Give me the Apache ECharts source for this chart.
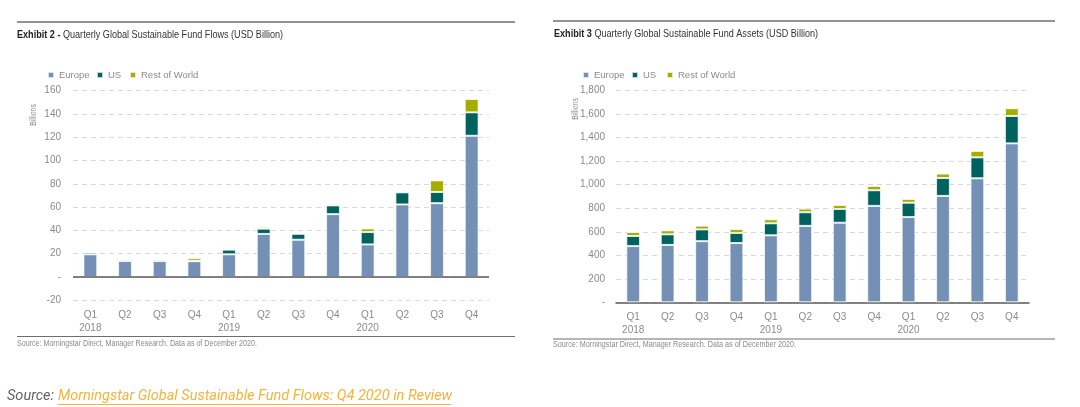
<!DOCTYPE html>
<html>
<head>
<meta charset="utf-8">
<script src="https://cdn.jsdelivr.net/npm/echarts@6/dist/echarts.min.js"></script>
<style>
html,body{margin:0;padding:0;background:#fff;}
#c{width:1080px;height:407px;}
</style>
</head>
<body>
<div id="c"></div>
<script>
// ---- data ----
var quarters = ['Q1\n2018','Q2','Q3','Q4','Q1\n2019','Q2','Q3','Q4','Q1\n2020','Q2','Q3','Q4'];
var seriesNames = ['Europe','US','Rest of World'];

// Exhibit 2: flows (USD billion)
var flowEurope = [19.5, 13.7, 13.7, 13.6, 19.5, 37.0, 32.0, 54.0, 28.0, 62.3, 63.4, 121.3];
var flowUS     = [1.6, 1.2, 1.2, 0.4, 4.0, 4.5, 5.1, 7.5, 10.6, 10.4, 9.6, 20.1];
var flowRoW    = [0.3, 0.7, 0.5, 2.3, 1.1, 1.4, 0.4, 1.2, 3.1, -1.0, 10.0, 11.5];
var flowTicks  = {min: -20, max: 160, interval: 20};

// Exhibit 3: assets (USD billion)
var assetEurope = [478, 488, 520, 504, 570, 650, 677, 820, 725, 905, 1055, 1352];
var assetUS     = [86, 90, 100, 86, 102, 116, 117, 133, 122, 152, 178, 233];
var assetRoW    = [34, 34, 32, 33, 34, 31, 34, 37, 32, 38, 55, 66];
var assetTicks  = {min: 0, max: 1800, interval: 200};

// ---- style ----
var colors = {'Europe':'#7491b5','US':'#00625f','Rest of World':'#a4ad00'};
var narrow = "'Liberation Sans',Arial,sans-serif";
var grey = '#8a8a8a';

function fmtComma(v){ if(v===0) return '-'; return String(v).replace(/\B(?=(\d{3})+(?!\d))/g, ','); }
function fmtPlain(v){ return v===0 ? '-' : String(v); }

function mkX(gi, margin){
  return {
    type:'category', gridIndex: gi, data: quarters,
    axisTick:{show:false},
    axisLine:{show: gi===1, onZero:true, lineStyle:{color:'#5a5a5a', width:1.5}},
    axisLabel:{color:grey, fontFamily:narrow, fontSize:10, lineHeight:13, margin: margin, interval:0}
  };
}
function mkY(gi, t, fmt, margin){
  return {
    type:'value', gridIndex: gi, min:t.min, max:t.max, interval:t.interval,
    axisLine:{show:false}, axisTick:{show:false},
    splitLine:{show:true, lineStyle:{color:'#d9d9d9', type:[5,4], width:1}},
    axisLabel:{color:grey, fontFamily:narrow, fontSize:10, margin: margin, formatter: fmt}
  };
}
function mkSeries(name, data, gi, stack, withZero){
  var s = {
    name: name, type:'bar', stack: stack, xAxisIndex: gi, yAxisIndex: gi,
    data: data, barWidth:'40%',
    itemStyle:{color: colors[name], borderColor:'rgba(255,255,255,0.75)', borderWidth:1},
    emphasis:{disabled:true}, animation:false
  };
  if (withZero) {
    s.markLine = {silent:true, symbol:'none', label:{show:false}, animation:false,
      lineStyle:{color:'#5a5a5a', type:'solid', width:1.5},
      data:[{yAxis:0}]};
  }
  return s;
}
function mkLegend(name, left){
  return {data:[name], left:left, top:70, padding:0, icon:'rect', itemWidth:6, itemHeight:6, itemGap:0,
    textStyle:{color:grey, fontFamily:narrow, fontSize:9.5}, selectedMode:false};
}
function narrowText(x, y, text, size, fill, sx){
  return {type:'text', x:x, y:y, scaleX:sx, scaleY:1, originX:0, originY:0, silent:true,
    style:{text:text, fontFamily:narrow, fontSize:size, fill:fill, align:'left', verticalAlign:'middle'}};
}

var option = {
  animation:false,
  color:[colors['Europe'], colors['US'], colors['Rest of World']],
  grid:[
    {left:73, right:1080-489, top:90.7, bottom:407-300.3, containLabel:false},
    {left:616, right:1080-1029, top:90.7, bottom:407-302.3, containLabel:false}
  ],
  xAxis:[ mkX(0, 8), mkX(1, 8) ],
  yAxis:[ mkY(0, flowTicks, fmtPlain, 12), mkY(1, assetTicks, fmtComma, 11) ],
  legend:[
    mkLegend('Europe', 47), mkLegend('US', 96), mkLegend('Rest of World', 129),
    mkLegend('Europe', 582), mkLegend('US', 631), mkLegend('Rest of World', 666)
  ],
  series:[
    mkSeries('Europe', flowEurope, 0, 'flow', true),
    mkSeries('US', flowUS, 0, 'flow', false),
    mkSeries('Rest of World', flowRoW, 0, 'flow', false),
    mkSeries('Europe', assetEurope, 1, 'asset', false),
    mkSeries('US', assetUS, 1, 'asset', false),
    mkSeries('Rest of World', assetRoW, 1, 'asset', false)
  ],
  graphic:[
    // top rules
    {type:'line', shape:{x1:17,y1:22,x2:515,y2:22}, style:{stroke:'#6e6e6e', lineWidth:1.5}, silent:true},
    {type:'line', shape:{x1:553,y1:21,x2:1055,y2:21}, style:{stroke:'#6e6e6e', lineWidth:1.5}, silent:true},
    // bottom rules
    {type:'line', shape:{x1:17,y1:336.5,x2:515,y2:336.5}, style:{stroke:'#6e6e6e', lineWidth:1.2}, silent:true},
    {type:'line', shape:{x1:553,y1:339,x2:1055,y2:339}, style:{stroke:'#6e6e6e', lineWidth:1.2}, silent:true},
    // titles
    {type:'text', x:17, y:35, scaleX:0.79, originX:0, originY:0, silent:true, style:{
      text:'{b|Exhibit 2 - }{n|Quarterly Global Sustainable Fund Flows (USD Billion)}', verticalAlign:'middle', align:'left',
      rich:{b:{fontFamily:narrow, fontSize:11.5, fontWeight:'bold', fill:'#222'}, n:{fontFamily:narrow, fontSize:11.5, fill:'#333'}}}},
    {type:'text', x:554, y:34, scaleX:0.79, originX:0, originY:0, silent:true, style:{
      text:'{b|Exhibit 3 }{n|Quarterly Global Sustainable Fund Assets (USD Billion)}', verticalAlign:'middle', align:'left',
      rich:{b:{fontFamily:narrow, fontSize:11.5, fontWeight:'bold', fill:'#222'}, n:{fontFamily:narrow, fontSize:11.5, fill:'#333'}}}},
    // Billions
    {type:'text', x:33.5, y:115, rotation:Math.PI/2, scaleX:0.72, silent:true, style:{text:'Billions', fontFamily:narrow, fontSize:9.5, fill:grey, align:'center', verticalAlign:'middle'}},
    {type:'text', x:575, y:109, rotation:Math.PI/2, scaleX:0.72, silent:true, style:{text:'Billions', fontFamily:narrow, fontSize:9.5, fill:grey, align:'center', verticalAlign:'middle'}},
    // chart sources
    narrowText(17, 343.3, 'Source: Morningstar Direct, Manager Research. Data as of December 2020.', 9, '#8a8a8a', 0.79),
    narrowText(553, 345, 'Source: Morningstar Direct, Manager Research. Data as of December 2020.', 9, '#8a8a8a', 0.8),
    // page caption
    {type:'text', left:7, top:389, silent:true, style:{text:'Source:', fontFamily:'Roboto', fontStyle:'italic', fontSize:14.5, fill:'#5f6368'}},
    {type:'text', left:58, top:389, silent:true, style:{text:'Morningstar Global Sustainable Fund Flows: Q4 2020 in Review', fontFamily:'Roboto', fontStyle:'italic', fontSize:14.5, fill:'#f6b33b'}},
    {type:'line', shape:{x1:58,y1:404.5,x2:451,y2:404.5}, style:{stroke:'#f6b33b', lineWidth:1}, silent:true}
  ]
};

var chart = echarts.init(document.getElementById('c'), null, {renderer:'canvas'});
chart.setOption(option);
</script>
</body>
</html>
